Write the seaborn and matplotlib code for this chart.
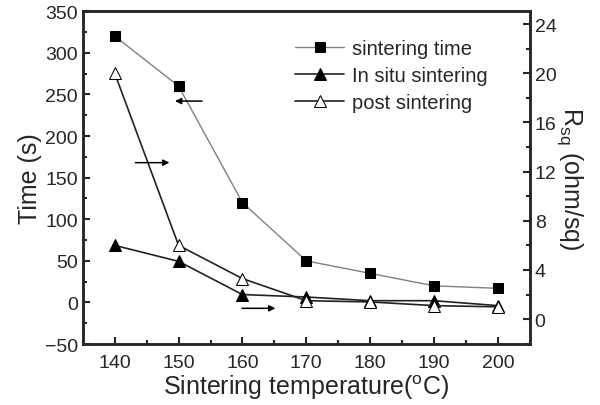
import numpy as np
import pandas as pd
import matplotlib
matplotlib.use("Agg")
import matplotlib.pyplot as plt
import seaborn as sns
from matplotlib.ticker import MultipleLocator

# Data
temps = [140, 150, 160, 170, 180, 190, 200]
sinter_time = [320, 260, 120, 50, 35, 20, 17]          # left axis, s
in_situ = [6.0, 4.7, 2.0, 1.8, 1.5, 1.5, 1.1]          # right axis, ohm/sq
post = [20.0, 6.0, 3.3, 1.5, 1.4, 1.1, 1.0]            # right axis, ohm/sq

sns.set_style("ticks")
plt.rcParams['font.family'] = ['Liberation Sans', 'DejaVu Sans']
plt.rcParams['mathtext.fontset'] = 'custom'
plt.rcParams['mathtext.rm'] = 'Liberation Sans'
plt.rcParams['xtick.direction'] = 'in'
plt.rcParams['ytick.direction'] = 'in'

df = pd.DataFrame({'temp': temps, 'time': sinter_time, 'insitu': in_situ, 'post': post})

fig = plt.figure(figsize=(6, 4.06), dpi=100)
ax = fig.add_axes([0.138, 0.150, 0.745, 0.820])
ax2 = ax.twinx()

sns.lineplot(data=df, x='temp', y='time', ax=ax, color='#808080', lw=1,
             marker='s', markersize=7, markerfacecolor='black', markeredgecolor='black',
             label='sintering time', legend=False)
sns.lineplot(data=df, x='temp', y='insitu', ax=ax2, color='#222222', lw=1.2,
             marker='^', markersize=9, markerfacecolor='black', markeredgecolor='black',
             label='In situ sintering', legend=False)
sns.lineplot(data=df, x='temp', y='post', ax=ax2, color='#222222', lw=1.2,
             marker='^', markersize=9, markerfacecolor='white', markeredgecolor='black',
             label='post sintering', legend=False)

ax.set_xlim(135, 205)
ax.set_ylim(-50, 350)
ax2.set_ylim(-2.03, 25.05)
ax.xaxis.set_major_locator(MultipleLocator(10))
ax.xaxis.set_minor_locator(MultipleLocator(5))
ax.yaxis.set_major_locator(MultipleLocator(50))
ax.yaxis.set_minor_locator(MultipleLocator(25))
ax2.yaxis.set_major_locator(MultipleLocator(4))
ax2.yaxis.set_minor_locator(MultipleLocator(2))

for a in (ax, ax2):
    for s in a.spines.values():
        s.set_linewidth(1.8)
        s.set_visible(True)
    a.tick_params(which='major', length=5, width=1.5, labelsize=14)
    a.tick_params(which='minor', length=3, width=1.5)
ax.tick_params(axis='x', pad=7)

ax.set_xlabel(r'Sintering temperature($^\mathrm{o}$C)', fontsize=18, labelpad=1)
ax.set_ylabel('Time (s)', fontsize=18, labelpad=2)
ax2.set_ylabel(r'R$_\mathrm{sq}$ (ohm/sq)', fontsize=18, rotation=270, labelpad=20)

# direction arrows
arrow = dict(arrowstyle='-|>', color='black', lw=1.1, mutation_scale=9)
ax.annotate('', xy=(149.0, 242), xytext=(154.1, 242), arrowprops=arrow)
ax.annotate('', xy=(149.0, 168), xytext=(142.8, 168), arrowprops=arrow)
ax.annotate('', xy=(165.6, -7), xytext=(159.5, -7), arrowprops=arrow)

h1, l1 = ax.get_legend_handles_labels()
h2, l2 = ax2.get_legend_handles_labels()
ax2.legend(h1 + h2, l1 + l2, loc='upper left', bbox_to_anchor=(0.435, 0.97),
           frameon=False, fontsize=14.5, handlelength=2.4, handletextpad=0.4,
           labelspacing=0.38)

fig.savefig('out.png', dpi=100)
